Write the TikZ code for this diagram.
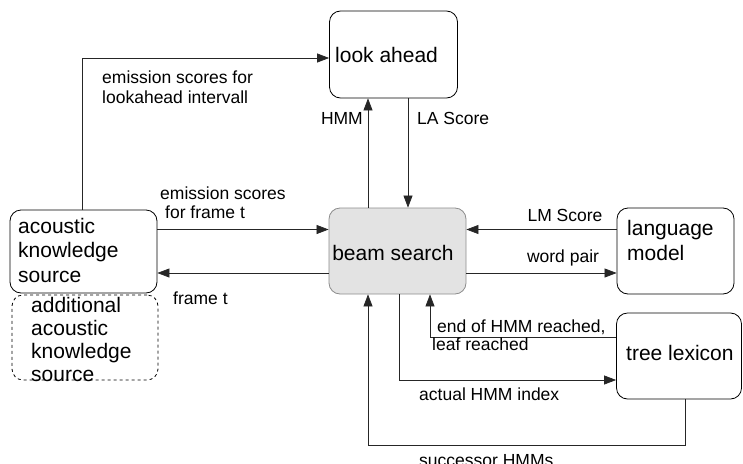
\documentclass[tikz,border=0pt]{standalone}
\usepackage{fontspec}
\setmainfont{Liberation Sans}
\usetikzlibrary{arrows.meta}

\begin{document}
\begin{tikzpicture}[x=1pt,y=-1pt,
  box/.style={draw=black, line width=0.8pt, rounded corners=11pt, fill=white, inner sep=0pt},
  boxtext/.style={font=\fontsize{21}{24.5}\selectfont, align=left, inner sep=0pt},
  lbl/.style={font=\fontsize{17.5}{19.5}\selectfont, align=left, inner sep=0pt},
  arr/.style={draw=black!85, line width=0.7pt, -{Triangle[length=12pt,width=9pt]}},
  link/.style={draw=black!85, line width=0.7pt}]

\useasboundingbox (0,0) rectangle (743,463);

% boxes
\node[box, minimum width=128pt, minimum height=87pt] (la) at (393.5,54.5) {};
\node[boxtext, anchor=west] (latext) at (335,55) {look ahead};

\node[box, draw=black!45, fill=black!11, minimum width=137pt, minimum height=86pt] (bs) at (397.5,251) {};
\node[boxtext] (bstext) at (393,253) {beam search};

\node[box, dashed, minimum width=146pt, minimum height=85pt] (add) at (85,337.5) {};
\node[boxtext, anchor=west, font=\fontsize{21}{23}\selectfont] (addtext) at (31,339) {additional\\acoustic\\knowledge\\source};

\node[box, minimum width=147pt, minimum height=83pt] (ac) at (83.5,251.5) {};
\node[boxtext, anchor=west] (actext) at (18,250) {acoustic\\knowledge\\source};

\node[box, minimum width=117pt, minimum height=86pt] (lm) at (675.5,251) {};
\node[boxtext, anchor=west] (lmtext) at (627,240.5) {language\\model};

\node[box, minimum width=125pt, minimum height=86pt] (tl) at (679,356) {};
\node[boxtext, anchor=west] (tltext) at (626,353) {tree lexicon};

% x and y positions of the connector runs
\coordinate (xEmLa) at (82,0);
\coordinate (yEmLa) at (0,58);
\coordinate (xHMM) at (368,0);
\coordinate (xLA) at (408,0);
\coordinate (yTop) at (0,229.5);
\coordinate (yBot) at (0,273);
\coordinate (xEnd) at (430,0);
\coordinate (yEnd) at (0,337);
\coordinate (xAct) at (399,0);
\coordinate (yAct) at (0,380);
\coordinate (xSuc) at (685,0);
\coordinate (ySuc) at (0,445);

% connectors
\draw[arr] (ac.north -| xEmLa) |- (la.west |- yEmLa);
\draw[arr] (bs.north -| xHMM) -- (la.south -| xHMM);
\draw[arr] (la.south -| xLA) -- (bs.north -| xLA);
\draw[arr] (ac.east |- yTop) -- (bs.west |- yTop);
\draw[arr] (bs.west |- yBot) -- (ac.east |- yBot);
\draw[arr] (lm.west |- yTop) -- (bs.east |- yTop);
\draw[arr] (bs.east |- yBot) -- (lm.west |- yBot);
\draw[arr] (tl.west |- yEnd) -| (bs.south -| xEnd);
\draw[arr] (bs.south -| xAct) |- (tl.west |- yAct);
\draw[arr] (tl.south -| xSuc) |- (xHMM |- ySuc) -- (bs.south -| xHMM);

% connector labels
\node[lbl, anchor=west] (l1) at (102,87) {emission scores for\\lookahead intervall};
\node[lbl, anchor=east] (l2) at (363,118) {HMM};
\node[lbl, anchor=west] (l3) at (417,118) {LA Score};
\node[lbl, anchor=west] (l4) at (160,193) {emission scores};
\node[lbl, anchor=west] (l4b) at (165,212) {for frame t};
\node[lbl, anchor=west] (l5) at (173,298) {frame t};
\node[lbl] (l6) at (565,215) {LM Score};
\node[lbl] (l7) at (563,258) {word pair};
\node[lbl, anchor=west] (l8) at (437,327) {end of HMM reached,};
\node[lbl, anchor=west] (l8b) at (432,344) {leaf reached};
\node[lbl, anchor=west] (l9) at (419,394) {actual HMM index};
\node[lbl, anchor=west] (l10) at (419,461) {successor HMMs};
\end{tikzpicture}
\end{document}
